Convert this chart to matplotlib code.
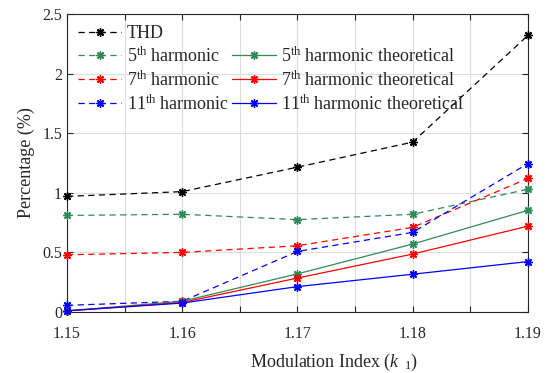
import matplotlib
matplotlib.use("Agg")
import matplotlib.pyplot as plt
from matplotlib.lines import Line2D
import numpy as np

plt.rcParams['font.family'] = ['Liberation Serif', 'DejaVu Serif']
plt.rcParams['mathtext.fontset'] = 'custom'
plt.rcParams['mathtext.rm'] = 'Liberation Serif'
plt.rcParams['mathtext.it'] = 'Liberation Serif:italic'

mod_index = [1.15, 1.16, 1.17, 1.18, 1.19]
thd = [0.97, 1.01, 1.215, 1.425, 2.32]
h5 = [0.81, 0.82, 0.775, 0.82, 1.03]
h7 = [0.48, 0.50, 0.556, 0.71, 1.12]
h11 = [0.056, 0.09, 0.508, 0.668, 1.245]
h5_theo = [0.01, 0.09, 0.32, 0.57, 0.853]
h7_theo = [0.01, 0.08, 0.285, 0.486, 0.72]
h11_theo = [0.01, 0.075, 0.213, 0.317, 0.423]

green = '#2E8B57'
fig = plt.figure(figsize=(5.51, 3.73), dpi=100)
ax = fig.add_axes([0.1216, 0.1635, 0.8364, 0.799])

mk = (8, 2, 0)
common = dict(marker=mk, markersize=6, linewidth=0.9, clip_on=False, zorder=3)
dash = (0, (5, 3.5))
ax.plot(mod_index, thd, color='black', linestyle=dash, label='THD', **common)
ax.plot(mod_index, h5, color=green, linestyle=dash, label=r'5$^{\mathrm{th}}$ harmonic', **common)
ax.plot(mod_index, h7, color='red', linestyle=dash, label=r'7$^{\mathrm{th}}$ harmonic', **common)
ax.plot(mod_index, h11, color='blue', linestyle=dash, label=r'11$^{\mathrm{th}}$ harmonic', **common)
ax.plot(mod_index, h5_theo, color=green, linestyle='-', label=r'5$^{\mathrm{th}}$ harmonic theoretical', **common)
ax.plot(mod_index, h7_theo, color='red', linestyle='-', label=r'7$^{\mathrm{th}}$ harmonic theoretical', **common)
ax.plot(mod_index, h11_theo, color='blue', linestyle='-', label=r'11$^{\mathrm{th}}$ harmonic theoretical', **common)

ax.set_xlim(1.15, 1.19)
ax.set_ylim(0, 2.5)
xt = np.round(np.arange(1.15, 1.1901, 0.005), 3)
ax.set_xticks(xt)
ax.set_xticklabels([f'{v:.2f}' if i % 2 == 0 else '' for i, v in enumerate(xt)])
ax.set_yticks([0, 0.5, 1, 1.5, 2, 2.5])
ax.set_yticklabels(['0', '0.5', '1', '1.5', '2', '2.5'])
ax.grid(True, color='#dddddd', linewidth=0.8, zorder=0)
ax.set_axisbelow(True)
for s in ax.spines.values():
    s.set_color('#262626')
    s.set_linewidth(0.8)
ax.tick_params(direction='in', length=4, width=0.8, colors='#262626', labelsize=11.5,
               top=True, right=True, labelcolor='#262626')
ax.tick_params(axis='x', pad=10)

ax.set_xlabel(r'Modulation Index ($k_{\ \ 1}$)', fontsize=13, color='#262626')
ax.xaxis.set_label_coords(0.58, -0.135)
ax.set_ylabel('Percentage (%)', fontsize=13, color='#262626', labelpad=5)

handles, labels = ax.get_legend_handles_labels()
blank = Line2D([], [], linestyle='none', marker=None)
handles = handles[:4] + [blank] + handles[4:]
labels = labels[:4] + [''] + labels[4:]
leg = ax.legend(handles, labels, ncol=2, loc='upper left', frameon=False, fontsize=13,
                handlelength=2.4, handletextpad=0.3, columnspacing=0.2, labelspacing=0.25,
                borderaxespad=0.3, borderpad=0.3)
for t in leg.get_texts():
    t.set_color('#262626')

fig.savefig('out.png', dpi=100)
